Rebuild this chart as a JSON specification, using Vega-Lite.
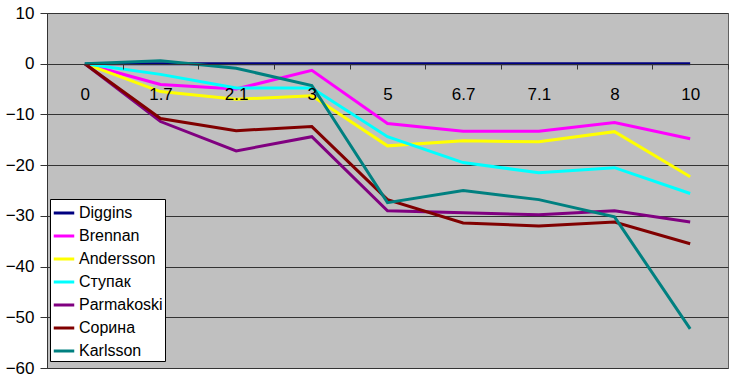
{
  "$schema": "https://vega.github.io/schema/vega-lite/v6.json",
  "width": 681,
  "height": 355,
  "autosize": "none",
  "padding": {"left": 47, "top": 13, "right": 2, "bottom": 14},
  "background": "white",
  "config": {
    "font": "Liberation Sans",
    "view": {"fill": "#C0C0C0", "stroke": "#606060", "strokeWidth": 1}
  },
  "data": {
    "values": [
      {"s": "Diggins", "x": "0", "y": 0}, {"s": "Diggins", "x": "1.7", "y": 0}, {"s": "Diggins", "x": "2.1", "y": 0}, {"s": "Diggins", "x": "3", "y": 0}, {"s": "Diggins", "x": "5", "y": 0}, {"s": "Diggins", "x": "6.7", "y": 0}, {"s": "Diggins", "x": "7.1", "y": 0}, {"s": "Diggins", "x": "8", "y": 0}, {"s": "Diggins", "x": "10", "y": 0},
      {"s": "Brennan", "x": "0", "y": 0}, {"s": "Brennan", "x": "1.7", "y": -4.1}, {"s": "Brennan", "x": "2.1", "y": -5.0}, {"s": "Brennan", "x": "3", "y": -1.3}, {"s": "Brennan", "x": "5", "y": -11.8}, {"s": "Brennan", "x": "6.7", "y": -13.3}, {"s": "Brennan", "x": "7.1", "y": -13.3}, {"s": "Brennan", "x": "8", "y": -11.6}, {"s": "Brennan", "x": "10", "y": -14.8},
      {"s": "Andersson", "x": "0", "y": 0}, {"s": "Andersson", "x": "1.7", "y": -5.5}, {"s": "Andersson", "x": "2.1", "y": -7.0}, {"s": "Andersson", "x": "3", "y": -6.3}, {"s": "Andersson", "x": "5", "y": -16.2}, {"s": "Andersson", "x": "6.7", "y": -15.2}, {"s": "Andersson", "x": "7.1", "y": -15.4}, {"s": "Andersson", "x": "8", "y": -13.4}, {"s": "Andersson", "x": "10", "y": -22.3},
      {"s": "Ступак", "x": "0", "y": 0}, {"s": "Ступак", "x": "1.7", "y": -2.1}, {"s": "Ступак", "x": "2.1", "y": -4.8}, {"s": "Ступак", "x": "3", "y": -4.8}, {"s": "Ступак", "x": "5", "y": -14.4}, {"s": "Ступак", "x": "6.7", "y": -19.5}, {"s": "Ступак", "x": "7.1", "y": -21.5}, {"s": "Ступак", "x": "8", "y": -20.5}, {"s": "Ступак", "x": "10", "y": -25.6},
      {"s": "Parmakoski", "x": "0", "y": 0}, {"s": "Parmakoski", "x": "1.7", "y": -11.4}, {"s": "Parmakoski", "x": "2.1", "y": -17.2}, {"s": "Parmakoski", "x": "3", "y": -14.4}, {"s": "Parmakoski", "x": "5", "y": -29.0}, {"s": "Parmakoski", "x": "6.7", "y": -29.4}, {"s": "Parmakoski", "x": "7.1", "y": -29.8}, {"s": "Parmakoski", "x": "8", "y": -29.0}, {"s": "Parmakoski", "x": "10", "y": -31.2},
      {"s": "Сорина", "x": "0", "y": 0}, {"s": "Сорина", "x": "1.7", "y": -10.8}, {"s": "Сорина", "x": "2.1", "y": -13.2}, {"s": "Сорина", "x": "3", "y": -12.4}, {"s": "Сорина", "x": "5", "y": -26.8}, {"s": "Сорина", "x": "6.7", "y": -31.4}, {"s": "Сорина", "x": "7.1", "y": -32.0}, {"s": "Сорина", "x": "8", "y": -31.2}, {"s": "Сорина", "x": "10", "y": -35.5},
      {"s": "Karlsson", "x": "0", "y": 0}, {"s": "Karlsson", "x": "1.7", "y": 0.6}, {"s": "Karlsson", "x": "2.1", "y": -0.9}, {"s": "Karlsson", "x": "3", "y": -4.3}, {"s": "Karlsson", "x": "5", "y": -27.4}, {"s": "Karlsson", "x": "6.7", "y": -25.0}, {"s": "Karlsson", "x": "7.1", "y": -26.8}, {"s": "Karlsson", "x": "8", "y": -30.2}, {"s": "Karlsson", "x": "10", "y": -52.3}
    ]
  },
  "mark": {"type": "line", "strokeWidth": 3, "strokeJoin": "miter"},
  "encoding": {
    "x": {
      "field": "x", "type": "ordinal", "sort": null,
      "scale": {"type": "band", "paddingInner": 0, "paddingOuter": 0},
      "axis": {
        "title": null, "orient": "bottom", "offset": -304, "labelAngle": 0, "zindex": 1,
        "tickBand": "extent", "tickSize": 5, "tickColor": "#333", "domainColor": "#333",
        "labelFontSize": 17, "labelColor": "black", "labelPadding": 17, "grid": false
      }
    },
    "y": {
      "field": "y", "type": "quantitative",
      "scale": {"domain": [-60, 10], "nice": false, "zero": false},
      "axis": {
        "title": null, "values": [-60, -50, -40, -30, -20, -10, 0, 10],
        "tickSize": 7, "tickColor": "#333", "domainColor": "#333",
        "labelFontSize": 17, "labelColor": "black", "labelPadding": 6,
        "grid": true, "gridColor": "#333", "gridOpacity": 1
      }
    },
    "color": {
      "field": "s", "type": "nominal",
      "scale": {
        "domain": ["Diggins", "Brennan", "Andersson", "Ступак", "Parmakoski", "Сорина", "Karlsson"],
        "range": ["#000080", "#FF00FF", "#FFFF00", "#00FFFF", "#800080", "#800000", "#008080"]
      },
      "legend": {
        "title": null, "orient": "none", "legendX": 3, "legendY": 186,
        "fillColor": "white", "strokeColor": "black", "padding": 2,
        "symbolType": "stroke", "symbolSize": 420, "symbolStrokeWidth": 3,
        "labelFontSize": 16, "labelColor": "black", "labelOffset": 3, "rowPadding": 3
      }
    }
  }
}
